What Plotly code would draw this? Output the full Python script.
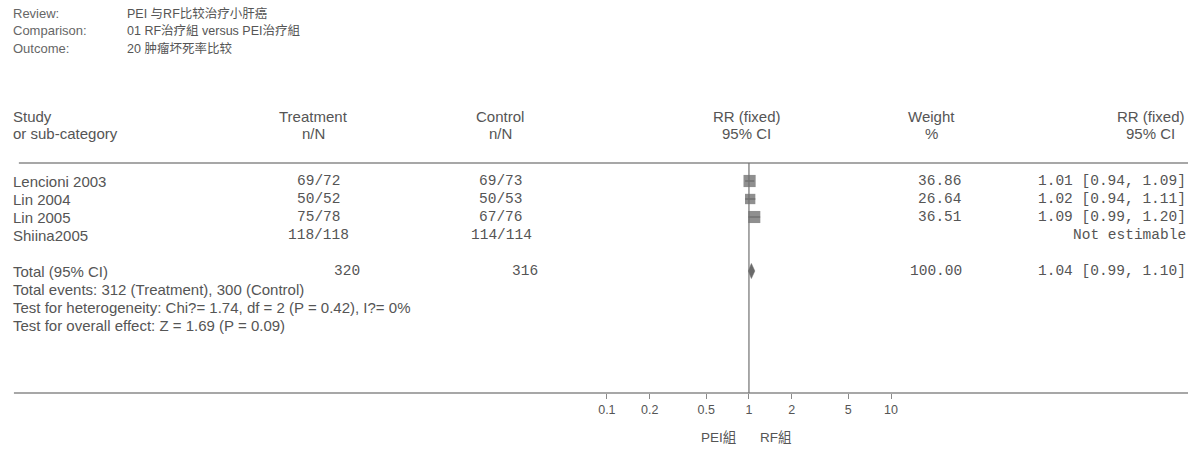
import plotly.graph_objects as go
import math

W, H = 1195, 453

# ---------------- data ----------------
review = "PEI 与RF比较治疗小肝癌"
comparison = "01 RF治疗組 versus PEI治疗組"
outcome = "20 肿瘤坏死率比较"

studies = ["Lencioni 2003", "Lin 2004", "Lin 2005", "Shiina2005"]
treat_nN = ["69/72", "50/52", "75/78", "118/118"]
ctrl_nN = ["69/73", "50/53", "67/76", "114/114"]
rr = [1.01, 1.02, 1.09, None]
rr_lo = [0.94, 0.94, 0.99, None]
rr_hi = [1.09, 1.11, 1.20, None]
weights = [36.86, 26.64, 36.51, None]

total_treat = 320
total_ctrl = 316
total_weight = 100.00
total_rr, total_lo, total_hi = 1.04, 0.99, 1.10

footer_lines = [
    "Total events: 312 (Treatment), 300 (Control)",
    "Test for heterogeneity: Chi?= 1.74, df = 2 (P = 0.42), I?= 0%",
    "Test for overall effect: Z = 1.69 (P = 0.09)",
]
tick_vals = [0.1, 0.2, 0.5, 1, 2, 5, 10]
tick_text = ["0.1", "0.2", "0.5", "1", "2", "5", "10"]
favours = ["PEI組", "RF組"]

# ---------------- layout helpers ----------------
ROW0, PITCH = 181, 18          # pixel y of first study row, row pitch
def row(py):                    # pixel y -> row units
    return (py - ROW0) / PITCH

X1 = 750                        # pixel x of RR = 1
DEC = 144                       # pixels per decade

SANS = "Liberation Sans, Arial, Noto Sans CJK SC, sans-serif"
MONO = "Liberation Mono, Courier New, monospace"
TXT = "#555555"
LINE = "#8a8a8a"
FS = 15        # body sans size
FM = 14.5      # mono size

fig = go.Figure()
ann = []

def text(xp, yp_row, s, anchor="left", font=SANS, size=FS, color=TXT):
    ann.append(dict(x=xp / W, xref="paper", y=yp_row, yref="y", text=s,
                    showarrow=False, xanchor=anchor, yanchor="middle",
                    borderpad=0, borderwidth=0,
                    font=dict(family=font, size=size, color=color)))

LX = 4
# title block
for i, (lab, val) in enumerate([("Review:", review), ("Comparison:", comparison),
                                ("Outcome:", outcome)]):
    yy = row(13 + i * 17.5)
    text(LX, yy, lab, size=13, color="#666666")
    text(120, yy, val, size=12.5)

# column headers
text(LX, row(116), "Study")
text(LX, row(133), "or sub-category")
for cx, a, b in [(309, "Treatment", "n/N"), (498, "Control", "n/N"),
                 (748, "RR (fixed)", "95% CI"), (935, "Weight", "%"),
                 (1157, "RR (fixed)", "95% CI")]:
    text(cx, row(116), a, anchor="center")
    text(cx, row(133), b, anchor="center")

# study rows
for i, s in enumerate(studies):
    text(LX, i, s)
    text(314, i, treat_nN[i], anchor="center", font=MONO, size=FM)
    text(499, i, ctrl_nN[i], anchor="center", font=MONO, size=FM)
    if weights[i] is not None:
        text(966, i, f"{weights[i]:.2f}", anchor="right", font=MONO, size=FM)
        text(1193, i, f"{rr[i]:.2f} [{rr_lo[i]:.2f}, {rr_hi[i]:.2f}]",
             anchor="right", font=MONO, size=FM)
    else:
        text(1193, i, "Not estimable", anchor="right", font=MONO, size=FM)

# total row
TR = 5
text(LX, TR, "Total (95% CI)")
text(356, TR, str(total_treat), anchor="right", font=MONO, size=FM)
text(536, TR, str(total_ctrl), anchor="right", font=MONO, size=FM)
text(966, TR, f"{total_weight:.2f}", anchor="right", font=MONO, size=FM)
text(1193, TR, f"{total_rr:.2f} [{total_lo:.2f}, {total_hi:.2f}]",
     anchor="right", font=MONO, size=FM)
for k, s in enumerate(footer_lines):
    text(LX, TR + 1 + k, s)

# favours labels
text(719, row(437), favours[0], anchor="center", size=13.5)
text(777, row(437), favours[1], anchor="center", size=13.5)

# ---------------- marks ----------------
for i in range(len(studies)):
    if rr[i] is None:
        continue
    fig.add_trace(go.Scatter(x=[rr_lo[i], rr_hi[i]], y=[i, i], mode="lines",
                             line=dict(color="#666666", width=1),
                             hoverinfo="skip", showlegend=False))
idx = [i for i in range(len(studies)) if rr[i] is not None]
fig.add_trace(go.Scatter(
    x=[rr[i] for i in idx], y=idx, mode="markers",
    marker=dict(symbol="square", color="#5f5f5f",
                size=[2.0 * math.sqrt(weights[i]) for i in idx],
                line=dict(width=0)),
    showlegend=False, hoverinfo="skip"))
dh = 0.42
fig.add_trace(go.Scatter(
    x=[total_lo, total_rr, total_hi, total_rr, total_lo],
    y=[TR, TR - dh, TR, TR + dh, TR], mode="lines", fill="toself",
    fillcolor="#6a6a6a", line=dict(color="#6a6a6a", width=0.5),
    showlegend=False, hoverinfo="skip"))

# ---------------- shapes ----------------
shapes = [
    dict(type="line", xref="paper", yref="y", x0=10 / W, x1=1.0,
         y0=row(163), y1=row(163), line=dict(color=LINE, width=1.6)),
    dict(type="line", xref="paper", yref="y", x0=5 / W, x1=1.0,
         y0=row(393), y1=row(393), line=dict(color=LINE, width=1.6)),
    dict(type="line", xref="x", yref="y", x0=1, x1=1,
         y0=row(163), y1=row(393), line=dict(color="#707070", width=1.2)),
]

fig.update_layout(
    width=W, height=H, margin=dict(l=0, r=0, t=0, b=0),
    paper_bgcolor="white", plot_bgcolor="rgba(0,0,0,0)",
    annotations=ann, shapes=shapes, showlegend=False,
    xaxis=dict(type="log", range=[-1, 1],
               domain=[(X1 - DEC) / W, (X1 + DEC) / W],
               anchor="free", position=1 - 393 / H,
               tickvals=tick_vals, ticktext=tick_text,
               ticks="outside", ticklen=5, tickcolor=LINE, tickwidth=1,
               showline=False, showgrid=False, zeroline=False,
               tickfont=dict(family=SANS, size=12.5, color=TXT)),
    yaxis=dict(range=[row(H), row(0)], domain=[0, 1], visible=False,
               fixedrange=True),
)

fig.write_html("out.html", config={"displayModeBar": False},
               post_script="document.body.style.margin='0';"
                           "document.documentElement.style.overflow='hidden';")
